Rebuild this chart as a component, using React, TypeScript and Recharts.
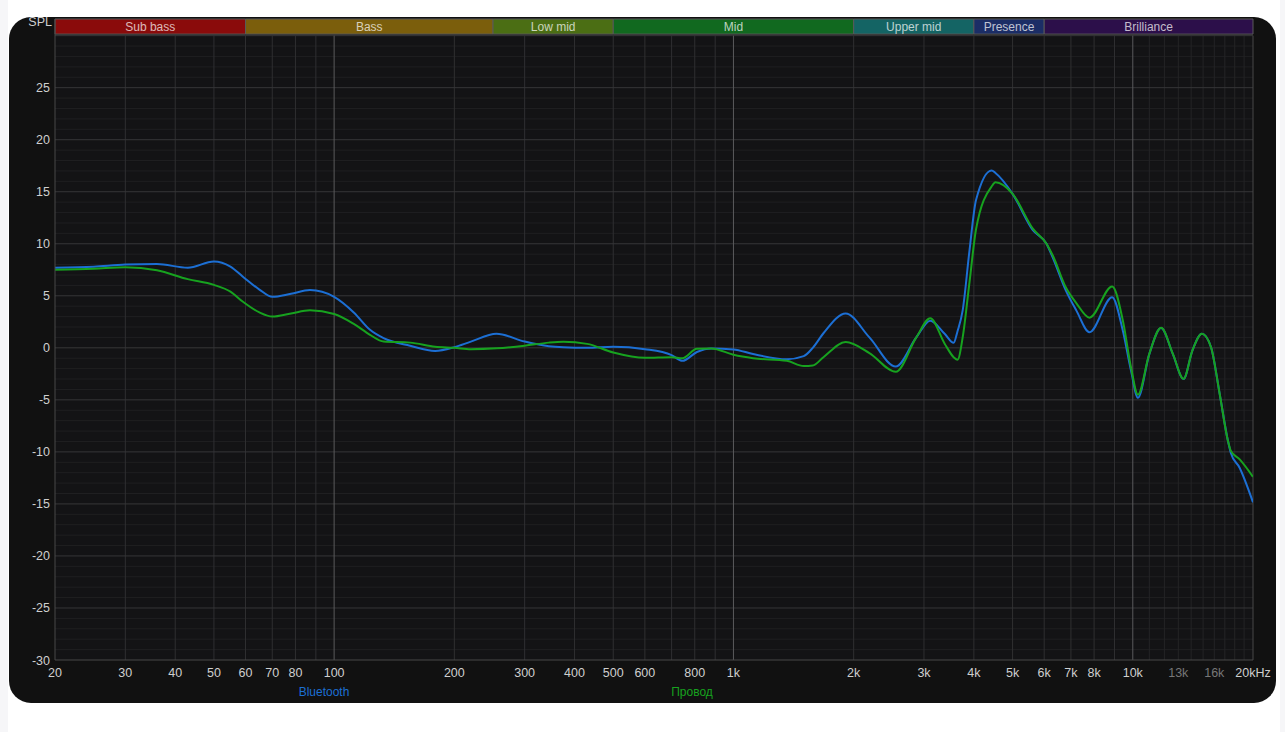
import {
  Line,
  LineChart,
  ReferenceArea,
  ReferenceLine,
  XAxis,
  YAxis,
} from 'recharts'

// frequency response, dB SPL at each frequency (Hz)
const FREQS = [
  20, 25, 30, 36, 43, 50, 55, 59, 65, 70, 78, 87, 100, 112, 123, 133, 155,
  179, 200, 220, 255, 300, 345, 375, 430, 500, 600, 700, 745, 810, 880, 1000,
  1120, 1360, 1500, 1580, 1680, 1910, 2190, 2550, 2870, 3110, 3380, 3560,
  3640, 3750, 3900, 4050, 4430, 4530, 5000, 5620, 6080, 6300, 6800, 7220,
  7790, 8880, 9440, 9900, 10300, 11000, 11770, 12600, 13400, 14100, 14900,
  15700, 16500, 17300, 17600, 18500, 20000,
]
const BLUETOOTH = [
  7.7, 7.8, 8.0, 8.05, 7.7, 8.3, 7.8, 6.86, 5.6, 4.9, 5.2, 5.55, 4.9, 3.4,
  1.73, 0.93, 0.2, -0.3, 0.06, 0.6, 1.35, 0.6, 0.15, 0.05, 0.0, 0.1, -0.13,
  -0.7, -1.25, -0.4, -0.06, -0.15, -0.6, -1.1, -0.8, 0.0, 1.4, 3.3, 1.0, -1.8,
  1.0, 2.6, 1.35, 0.48, 1.6, 3.6, 9.35, 14.2, 17.05, 16.8, 14.8, 11.3, 10.0,
  8.7, 5.5, 3.6, 1.5, 4.87, 1.66, -2.2, -4.8, -0.6, 1.9, -0.6, -3.0, -0.26,
  1.35, 0.06, -4.4, -8.9, -10.1, -11.5, -14.85,
]
const WIRED = [
  7.5, 7.6, 7.75, 7.45, 6.6, 6.05, 5.4, 4.45, 3.4, 3.0, 3.3, 3.6, 3.25, 2.3,
  1.25, 0.6, 0.5, 0.1, 0.0, -0.13, -0.05, 0.2, 0.5, 0.58, 0.38, -0.45, -0.96,
  -0.9, -1.0, -0.1, -0.06, -0.67, -1.0, -1.25, -1.75, -1.7, -0.9, 0.55, -0.5,
  -2.3, 1.0, 2.85, 0.4, -0.9, -1.15, 1.0, 6.3, 11.4, 15.5, 15.9, 14.8, 11.45,
  10.0, 8.9, 5.8, 4.3, 2.9, 5.9, 2.65, -1.9, -4.5, -0.58, 1.92, -0.58, -2.98,
  -0.26, 1.35, 0.06, -4.4, -8.9, -9.9, -10.7, -12.4,
]

const SERIES_NAMES = ['Bluetooth', 'Провод']
const SERIES_COLORS = ['#1c6fd4', '#17a21f']

const X_TICKS = [
  20, 30, 40, 50, 60, 70, 80, 100, 200, 300, 400, 500, 600, 800, 1000, 2000,
  3000, 4000, 5000, 6000, 7000, 8000, 10000, 13000, 16000, 20000,
]
const X_TICK_LABELS = [
  '20', '30', '40', '50', '60', '70', '80', '100', '200', '300', '400', '500',
  '600', '800', '1k', '2k', '3k', '4k', '5k', '6k', '7k', '8k', '10k', '13k',
  '16k', '20kHz',
]
const DIM_TICKS = [13000, 16000]
const Y_TICKS = [-30, -25, -20, -15, -10, -5, 0, 5, 10, 15, 20, 25]

const BAND_NAMES = ['Sub bass', 'Bass', 'Low mid', 'Mid', 'Upper mid', 'Presence', 'Brilliance']
const BAND_EDGES = [20, 60, 250, 500, 2000, 4000, 6000, 20000]
const BAND_COLORS = ['#8a0b0b', '#7b5e0c', '#4b6e14', '#11691f', '#146464', '#1b2d66', '#2c0f4a']

// grid
const MAJOR_FREQS = [100, 1000, 10000]
const MINOR_FREQS: number[] = []
for (const decade of [10, 100, 1000, 10000]) {
  for (let k = 2; k <= 9; k++) {
    const f = decade * k
    if (f > 20 && f < 20000 && !MAJOR_FREQS.includes(f)) MINOR_FREQS.push(f)
  }
}
for (let f = 11000; f < 20000; f += 1000) if (!MINOR_FREQS.includes(f)) MINOR_FREQS.push(f)
const DB_LINES = Array.from({ length: 60 }, (_, i) => i - 29)

const FONT = '"Liberation Sans", Arial, sans-serif'

const data = FREQS.map((f, i) => ({ f, bt: BLUETOOTH[i], wire: WIRED[i] }))

const vSeg = (f: number) => [
  { x: f, y: -30 },
  { x: f, y: 30 },
]

const XTick = ({ x, y, payload }: any) => {
  const idx = X_TICKS.indexOf(payload.value)
  const dim = DIM_TICKS.includes(payload.value)
  return (
    <text
      x={x}
      y={y}
      dy={17}
      textAnchor="middle"
      fill={dim ? '#777' : '#cfcfcf'}
      fontSize={12.5}
      fontFamily={FONT}
    >
      {X_TICK_LABELS[idx]}
    </text>
  )
}

const YTick = ({ x, y, payload }: any) => (
  <text x={x - 3} y={y} dy={4.5} textAnchor="end" fill="#cfcfcf" fontSize={12.5} fontFamily={FONT}>
    {payload.value}
  </text>
)

export default function App() {
  return (
    <div style={{ position: 'absolute', left: 0, top: 0, width: 1285, height: 732, background: '#fff' }}>
      <div style={{ position: 'absolute', left: 0, top: 0, width: 8, height: 732, background: '#f6f6f8' }} />
      <div style={{ position: 'absolute', left: 1280, top: 0, width: 5, height: 732, background: '#f6f6f8' }} />
      <div
        style={{
          position: 'absolute',
          left: 9,
          top: 17,
          width: 1267,
          height: 686,
          borderRadius: 22,
          background: '#111111',
        }}
      />
      <div
        style={{
          position: 'absolute',
          left: 20,
          top: 15,
          width: 32,
          textAlign: 'right',
          color: '#cfcfcf',
          fontFamily: FONT,
          fontSize: 12.5,
        }}
      >
        SPL
      </div>
      <div style={{ position: 'absolute', left: 0, top: 0 }}>
        <LineChart
          width={1285}
          height={732}
          data={data}
          margin={{ top: 19, right: 32, bottom: 42, left: 5 }}
        >
          <XAxis
            dataKey="f"
            type="number"
            scale="log"
            domain={[20, 20000]}
            allowDataOverflow
            ticks={X_TICKS}
            interval={0}
            tick={<XTick />}
            tickLine={false}
            tickSize={0}
            tickMargin={0}
            height={30}
            axisLine={{ stroke: '#484848' }}
          />
          <YAxis
            type="number"
            domain={[-30, 31.6]}
            allowDataOverflow
            ticks={Y_TICKS}
            interval={0}
            tick={<YTick />}
            tickLine={false}
            tickSize={0}
            width={50}
            axisLine={{ stroke: '#484848' }}
          />
          <ReferenceArea x1={20} x2={20000} y1={-30} y2={30} fill="#131315" fillOpacity={1} stroke="none" />
          {DB_LINES.filter((v) => v % 5 !== 0).map((v) => (
            <ReferenceLine key={`hm${v}`} y={v} stroke="#1f1f21" strokeWidth={1} />
          ))}
          {MINOR_FREQS.map((f) => (
            <ReferenceLine
              key={`vm${f}`}
              segment={vSeg(f)}
              stroke={f > 10000 ? '#242426' : '#2f2f31'}
              strokeWidth={1}
            />
          ))}
          {DB_LINES.filter((v) => v % 5 === 0).map((v) => (
            <ReferenceLine key={`hM${v}`} y={v} stroke="#363638" strokeWidth={1} />
          ))}
          {MAJOR_FREQS.map((f) => (
            <ReferenceLine key={`vM${f}`} segment={vSeg(f)} stroke="#5a5a5c" strokeWidth={1} />
          ))}
          <ReferenceLine segment={vSeg(20000)} stroke="#484848" />
          {BAND_NAMES.map((name, i) => (
            <ReferenceArea
              key={name}
              x1={BAND_EDGES[i]}
              x2={BAND_EDGES[i + 1]}
              y1={30.15}
              y2={31.6}
              fill={BAND_COLORS[i]}
              fillOpacity={1}
              stroke="#5a5a5a"
              strokeWidth={1}
              label={{
                value: name,
                position: 'center',
                fill: 'rgba(255,255,255,0.72)',
                fontSize: 12,
                fontFamily: FONT,
              }}
            />
          ))}
          <Line
            type="monotone"
            dataKey="bt"
            name={SERIES_NAMES[0]}
            stroke={SERIES_COLORS[0]}
            strokeWidth={2}
            dot={false}
            isAnimationActive={false}
          />
          <Line
            type="monotone"
            dataKey="wire"
            name={SERIES_NAMES[1]}
            stroke={SERIES_COLORS[1]}
            strokeWidth={2}
            dot={false}
            isAnimationActive={false}
          />
        </LineChart>
      </div>
      {SERIES_NAMES.map((name, i) => (
        <div
          key={name}
          style={{
            position: 'absolute',
            left: i === 0 ? 324 : 692,
            top: 685,
            transform: 'translateX(-50%)',
            color: SERIES_COLORS[i],
            fontFamily: FONT,
            fontSize: 12,
            whiteSpace: 'nowrap',
          }}
        >
          {name}
        </div>
      ))}
    </div>
  )
}
